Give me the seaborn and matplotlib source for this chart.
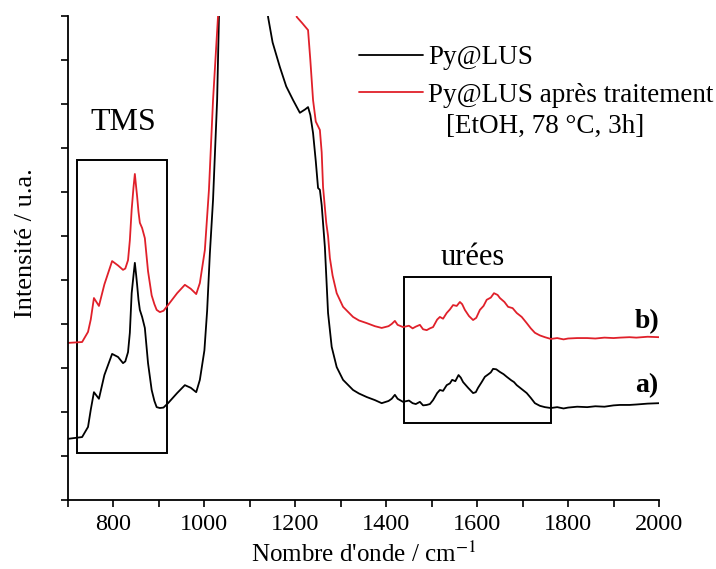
import pandas as pd
import matplotlib
matplotlib.use("Agg")
import matplotlib.pyplot as plt
import seaborn as sns

# nombre d'onde (cm-1) et intensités (u.a.)
# a) Py@LUS
wn_a = [700, 731, 744, 750, 757, 768, 780, 797, 810, 821, 826, 832, 836, 840, 844, 847, 850, 852, 855, 858,
        863, 869, 876, 884, 890, 895, 902, 910, 920, 940, 957, 970, 982, 990, 1000, 1006, 1012, 1019,
        1028, 1032, 1040, 1130,
        1140, 1150, 1166, 1180, 1195, 1210, 1222, 1228, 1233, 1239, 1245, 1250, 1254, 1258, 1265,
        1272, 1280, 1291, 1305, 1327, 1340, 1357, 1375, 1390, 1405, 1412, 1419, 1425, 1437, 1450,
        1458, 1465, 1474, 1481, 1489, 1496, 1503, 1512, 1518, 1525, 1533, 1540, 1545, 1552, 1559,
        1564, 1569, 1580, 1591, 1597, 1602, 1610, 1617, 1625, 1630, 1635, 1642, 1650, 1658, 1665,
        1675, 1681, 1687, 1698, 1709, 1718, 1727, 1738, 1749, 1762, 1776, 1790, 1800, 1820, 1842,
        1860, 1880, 1900, 1914, 1935, 1950, 1975, 2000]
int_a = [1.39, 1.43, 1.66, 2.05, 2.45, 2.30, 2.84, 3.32, 3.25, 3.11, 3.15, 3.36, 3.80, 4.70, 5.10, 5.39, 5.10, 4.89, 4.55, 4.32,
         4.16, 3.91, 3.11, 2.50, 2.25, 2.11, 2.09, 2.10, 2.20, 2.43, 2.61, 2.55, 2.45, 2.73, 3.40, 4.30, 5.60, 6.82,
         9.09, 10.98, 13.0, 13.0,
         10.98, 10.40, 9.84, 9.40, 9.09, 8.80, 8.88, 8.93, 8.75, 8.34, 7.70, 7.09, 7.05, 6.70, 5.75,
         4.25, 3.48, 3.02, 2.73, 2.50, 2.42, 2.34, 2.27, 2.20, 2.25, 2.30, 2.39, 2.30, 2.23, 2.26,
         2.20, 2.18, 2.23, 2.15, 2.16, 2.18, 2.27, 2.43, 2.50, 2.48, 2.61, 2.65, 2.73, 2.70, 2.84,
         2.78, 2.68, 2.55, 2.43, 2.45, 2.55, 2.68, 2.80, 2.86, 2.90, 2.98, 2.97, 2.91, 2.86, 2.80,
         2.72, 2.68, 2.61, 2.52, 2.43, 2.32, 2.20, 2.14, 2.11, 2.09, 2.11, 2.08, 2.10, 2.12, 2.11,
         2.13, 2.12, 2.15, 2.16, 2.16, 2.17, 2.19, 2.20]

# b) Py@LUS après traitement
wn_b = [700, 731, 744, 750, 757, 768, 780, 797, 810, 821, 826, 832, 836, 840, 844, 847, 850, 852, 855, 858,
        863, 869, 876, 884, 890, 895, 902, 910, 920, 940, 957, 970, 982, 990, 1001, 1010, 1019, 1030,
        1040, 1195,
        1203, 1215, 1228, 1233, 1239, 1245, 1254, 1258, 1261, 1268, 1272, 1276, 1282,
        1291, 1305, 1327, 1340, 1357, 1375, 1390, 1405, 1412, 1419, 1425, 1437, 1450,
        1458, 1465, 1474, 1481, 1489, 1496, 1503, 1512, 1518, 1525, 1533, 1540, 1547, 1555, 1562,
        1567, 1573, 1582, 1591, 1598, 1606, 1614, 1621, 1630, 1637, 1645, 1650, 1660, 1668,
        1678, 1687, 1698, 1709, 1718, 1727, 1738, 1749, 1762, 1776, 1790, 1800, 1820, 1842,
        1860, 1880, 1900, 1914, 1935, 1950, 1975, 2000]
int_b = [3.57, 3.59, 3.82, 4.10, 4.59, 4.41, 4.90, 5.43, 5.33, 5.23, 5.26, 5.45, 5.90, 6.60, 7.10, 7.41, 7.10, 6.90, 6.55, 6.30,
         6.18, 5.95, 5.20, 4.65, 4.45, 4.32, 4.27, 4.30, 4.43, 4.70, 4.89, 4.80, 4.68, 4.93, 5.68, 7.05, 9.09, 11.0,
         13.0, 13.0,
         10.98, 10.84, 10.68, 10.00, 9.09, 8.60, 8.41, 7.90, 7.11, 6.30, 6.00, 5.50, 5.10,
         4.70, 4.39, 4.16, 4.08, 4.02, 3.95, 3.91, 3.95, 4.00, 4.07, 3.98, 3.93, 3.96,
         3.90, 3.94, 3.98, 3.88, 3.86, 3.90, 3.93, 4.10, 4.16, 4.12, 4.25, 4.33, 4.43, 4.41, 4.50,
         4.45, 4.32, 4.18, 4.09, 4.14, 4.32, 4.41, 4.55, 4.60, 4.70, 4.66, 4.59, 4.50, 4.39,
         4.36, 4.25, 4.16, 4.02, 3.90, 3.80, 3.74, 3.70, 3.66, 3.68, 3.65, 3.67, 3.68, 3.68,
         3.67, 3.69, 3.68, 3.69, 3.70, 3.69, 3.71, 3.70]

label_a = "Py@LUS"
label_b = "Py@LUS après traitement"
label_b2 = "[EtOH, 78 °C, 3h]"

df = pd.concat([
    pd.DataFrame({"wn": wn_a, "I": int_a, "ech": label_a}),
    pd.DataFrame({"wn": wn_b, "I": int_b, "ech": label_b}),
])

sns.set_style("ticks")
plt.rcParams["font.family"] = ["Liberation Serif", "DejaVu Serif"]
plt.rcParams["mathtext.fontset"] = "stix"
plt.rcParams["text.color"] = "black"
plt.rcParams["axes.labelcolor"] = "black"
plt.rcParams["xtick.color"] = "black"
plt.rcParams["ytick.color"] = "black"

fig = plt.figure(figsize=(7.16, 5.69), dpi=100)
ax = fig.add_axes([0.095, 0.1213, 0.8254, 0.8506])

sns.lineplot(data=df, x="wn", y="I", hue="ech", palette={label_a: "black", label_b: "#e0202a"},
             sort=False, estimator=None, linewidth=1.3, ax=ax)

ax.set_xlim(700, 2000)
ax.set_ylim(0, 11)
ax.set_xticks(range(800, 2001, 200))
ax.set_xticks(range(700, 2001, 100), minor=True)
ax.set_yticks(range(0, 12))
ax.set_yticklabels([])
ax.tick_params(axis="both", which="both", direction="out", length=5, width=1.2, color="black",
               labelcolor="black")
ax.tick_params(axis="x", labelsize=17.5, pad=5)
sns.despine(ax=ax)
for s in ["left", "bottom"]:
    ax.spines[s].set_linewidth(1.3)
    ax.spines[s].set_color("black")

ax.set_xlabel("Nombre d'onde / cm$^{-1}$", fontsize=18, labelpad=5)
ax.set_ylabel("Intensité / u.a.", fontsize=19, labelpad=8)
ax.yaxis.set_label_coords(-0.052, 0.53)

# cadres
ax.add_patch(plt.Rectangle((720, 1.07), 198, 6.66, fill=False, edgecolor="black", linewidth=1.4))
ax.add_patch(plt.Rectangle((1439, 1.75), 324, 3.32, fill=False, edgecolor="black", linewidth=1.4))
ax.text(821, 8.59, "TMS", fontsize=23, ha="center", va="center")
ax.text(1591, 5.5, "urées", fontsize=22, ha="center", va="center")
ax.text(1974, 4.05, "b)", fontsize=20, fontweight="bold", ha="center", va="center")
ax.text(1974, 2.61, "a)", fontsize=20, fontweight="bold", ha="center", va="center")

leg = ax.legend(loc="upper left", bbox_to_anchor=(0.474, 0.962), frameon=False, fontsize=19.5,
                handlelength=2.37, handletextpad=0.19, labelspacing=0.46, borderaxespad=0)
for t in leg.get_texts():
    t.set_color("black")
ax.text(1532, 8.48, label_b2, fontsize=19.5, ha="left", va="center")

fig.savefig("out.png", dpi=100)
